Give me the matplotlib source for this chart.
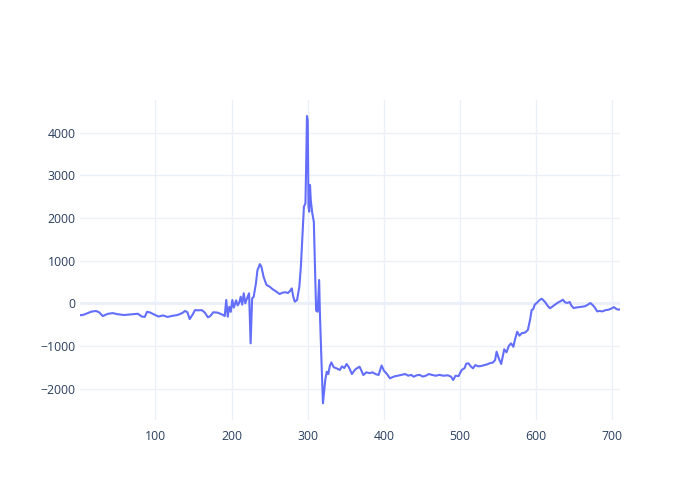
"""Line chart of a single noisy series with a large spike near x=300 (plotly-white look)."""
import matplotlib
matplotlib.use("Agg")
import matplotlib.pyplot as plt

# Values (x index, value)
x_vals = [
    1, 4, 7, 11, 16, 22, 26, 31, 35, 38, 44, 50, 59, 68, 77, 82, 86, 89, 93, 98,
    104, 110, 116, 122, 129, 135, 139, 142, 145, 149, 152, 157, 161, 165, 169, 172,
    176, 182, 186, 189, 191, 193, 195, 197, 199, 201, 203, 206, 208, 210, 212, 214,
    216, 218, 221, 223, 225, 227, 229, 232, 234, 236, 237, 239, 242, 244, 246, 250,
    254, 259, 263, 267, 271, 274, 277, 279, 281, 283, 286, 289, 291, 293, 295, 297,
    298, 299, 300, 301, 302, 303, 304, 306, 308, 311, 313, 315, 316, 318, 320, 323,
    325, 327, 329, 331, 334, 337, 340, 342, 345, 348, 351, 354, 358, 362, 365, 368,
    371, 373, 377, 381, 385, 389, 393, 397, 400, 404, 408, 413, 418, 423, 428, 432,
    436, 439, 443, 447, 451, 455, 459, 463, 468, 473, 478, 484, 488, 491, 494, 498,
    502, 506, 508, 511, 514, 517, 520, 524, 528, 532, 536, 540, 543, 546, 548, 551,
    554, 558, 561, 564, 567, 570, 572, 575, 578, 581, 585, 589, 592, 594, 596, 598,
    601, 604, 607, 609, 612, 615, 618, 621, 624, 628, 632, 635, 638, 641, 644, 646,
    649, 652, 656, 660, 664, 668, 671, 674, 677, 680, 683, 687, 691, 695, 699, 702,
    705, 708, 710,
]
y_vals = [
    -280, -275, -260, -230, -195, -180, -210, -300, -265, -245, -230, -255, -275, -260, -245, -310, -320, -200, -215, -260,
    -310, -285, -320, -295, -275, -230, -180, -210, -370, -260, -160, -165, -160, -220, -330, -300,
    -210, -220, -250, -275, -300, 78, -315, -80, -200, 78, -100, 70, -50, 10, 155, -30,
    235, 0, 150, 235, -940, 117, 150, 470, 780, 860, 920, 870, 625, 520, 430, 390,
    330, 272, 218, 250, 260, 240, 296, 350, 155, 38, 78, 390, 860, 1563, 2268, 2347,
    3286, 4397, 4300, 2268, 2150, 2777, 2425, 2113, 1916, -170, -197, 547, -235, -1331, -2347, -1800,
    -1606, -1660, -1472, -1386, -1500, -1520, -1545, -1566, -1480, -1520, -1425, -1500, -1660, -1560, -1520, -1488,
    -1600, -1683, -1620, -1640, -1620, -1660, -1683, -1460, -1580, -1660, -1761, -1720, -1700, -1680, -1660, -1700,
    -1680, -1723, -1690, -1680, -1720, -1700, -1660, -1680, -1700, -1680, -1700, -1690, -1720, -1800, -1700, -1710,
    -1566, -1520, -1420, -1408, -1480, -1526, -1450, -1480, -1470, -1450, -1430, -1400, -1394, -1331, -1136, -1300,
    -1425, -1080, -1150, -1000, -939, -1020, -860, -667, -760, -700, -690, -627, -380, -157, -141, -33,
    14, 70, 108, 80, 20, -60, -115, -80, -40, 10, 50, 85, 20, 10, 30, -50,
    -110, -100, -90, -80, -70, -30, 7, -40, -100, -190, -180, -190, -160, -150, -120, -90,
    -130, -150, -141,
]
x_ticks = [100, 200, 300, 400, 500, 600, 700]
y_ticks = [-2000, -1000, 0, 1000, 2000, 3000, 4000]

LINE_COLOR = "#636efa"
GRID_COLOR = "#ebf0f8"
TEXT_COLOR = "#2a3f5f"

plt.rcParams["font.family"] = ["Open Sans", "DejaVu Sans"]

fig = plt.figure(figsize=(7, 5), dpi=100)
ax = fig.add_axes([80 / 700, 80 / 500, 540 / 700, 320 / 500])

ax.plot(x_vals, y_vals, color=LINE_COLOR, lw=1.5, solid_joinstyle="round", zorder=3)

ax.set_xlim(1, 710)
ax.set_ylim(-2739, 4772)
ax.set_xticks(x_ticks)
ax.set_yticks(y_ticks)
ax.set_yticklabels([f"{v:d}".replace("-", "\u2212") for v in y_ticks])

ax.grid(True, color=GRID_COLOR, lw=1, zorder=0)
ax.axhline(0, color=GRID_COLOR, lw=2, zorder=1)
for s in ax.spines.values():
    s.set_visible(False)
ax.tick_params(axis="both", length=0, labelsize=8.8, labelcolor=TEXT_COLOR)
ax.tick_params(axis="x", pad=7)
ax.tick_params(axis="y", pad=3)

fig.savefig("out.png", dpi=100)
